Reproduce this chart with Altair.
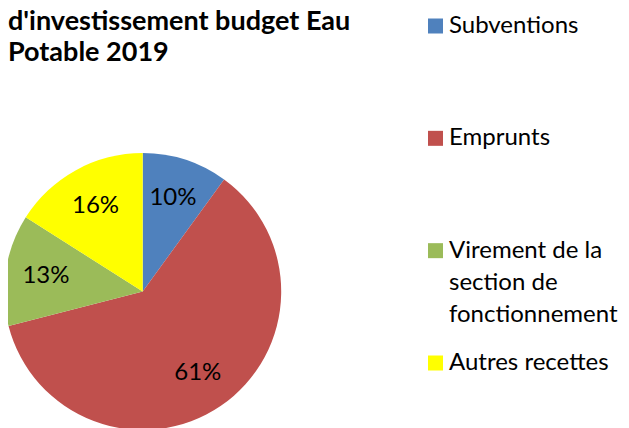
import altair as alt
import pandas as pd

# ---- data ----
categories = ["Subventions", "Emprunts", "Virement de la section de fonctionnement", "Autres recettes"]
shares = [10, 61, 13, 16]
colors = ["#4F81BD", "#C0504D", "#9BBB59", "#FFFF00"]
title_lines = ["d'investissement budget Eau", "Potable 2019"]
legend_lines = [["Subventions"], ["Emprunts"], ["Virement de la", "section de", "fonctionnement"], ["Autres recettes"]]

# ---- layout constants ----
FONT = "Lato"
CX, CY, R = 134.7, 283.5, 138.5
LEGEND_ROWS = [0, 3.5, 7, 10.5]

pie_df = pd.DataFrame({
    "category": categories,
    "share": shares,
    "idx": list(range(len(categories))),
})
pie_df["label"] = [f"{s}%" for s in shares]

color_scale = alt.Scale(domain=categories, range=colors)

base = alt.Chart(pie_df).encode(
    theta=alt.Theta("share:Q", stack=True),
    order=alt.Order("idx:Q"),
    x=alt.value(CX),
    y=alt.value(CY),
)

pie = base.mark_arc(radius=R).encode(
    color=alt.Color("category:N", scale=color_scale, legend=None)
)

labels = base.mark_text(radius=98, fontSize=24, font=FONT, color="black").encode(
    text="label:N"
)

# legend built as marks
rows = []
for cat, lines, start in zip(categories, legend_lines, LEGEND_ROWS):
    for i, line in enumerate(lines):
        rows.append({"category": cat, "text": line, "row": start + i, "first": i == 0})
leg_df = pd.DataFrame(rows)

yscale = alt.Scale(domain=[0, 10.5], range=[25, 362])

leg_sq = alt.Chart(leg_df).transform_filter("datum.first").mark_square(
    size=225, opacity=1, yOffset=-7
).encode(
    x=alt.value(427.5),
    y=alt.Y("row:Q", scale=yscale, axis=None),
    color=alt.Color("category:N", scale=color_scale, legend=None),
)

leg_txt = alt.Chart(leg_df).mark_text(
    align="left", baseline="alphabetic", fontSize=24, font=FONT, color="black"
).encode(
    x=alt.value(441),
    y=alt.Y("row:Q", scale=yscale, axis=None),
    text="text:N",
)

title_df = pd.DataFrame({"text": title_lines, "line": list(range(len(title_lines)))})
title = alt.Chart(title_df).mark_text(
    align="left", baseline="alphabetic", fontSize=27, fontWeight="bold", font=FONT, color="black"
).encode(
    x=alt.value(0),
    y=alt.Y("line:Q", scale=alt.Scale(domain=[0, 1], range=[22, 53]), axis=None),
    text="text:N",
)

chart = alt.layer(pie, labels, leg_sq, leg_txt, title).resolve_scale(y="independent").properties(
    width=613, height=420, padding=0, autosize=alt.AutoSizeParams(type="none")
).configure_view(stroke=None)

chart.save("out.html", embed_options={"renderer": "svg", "actions": False})
